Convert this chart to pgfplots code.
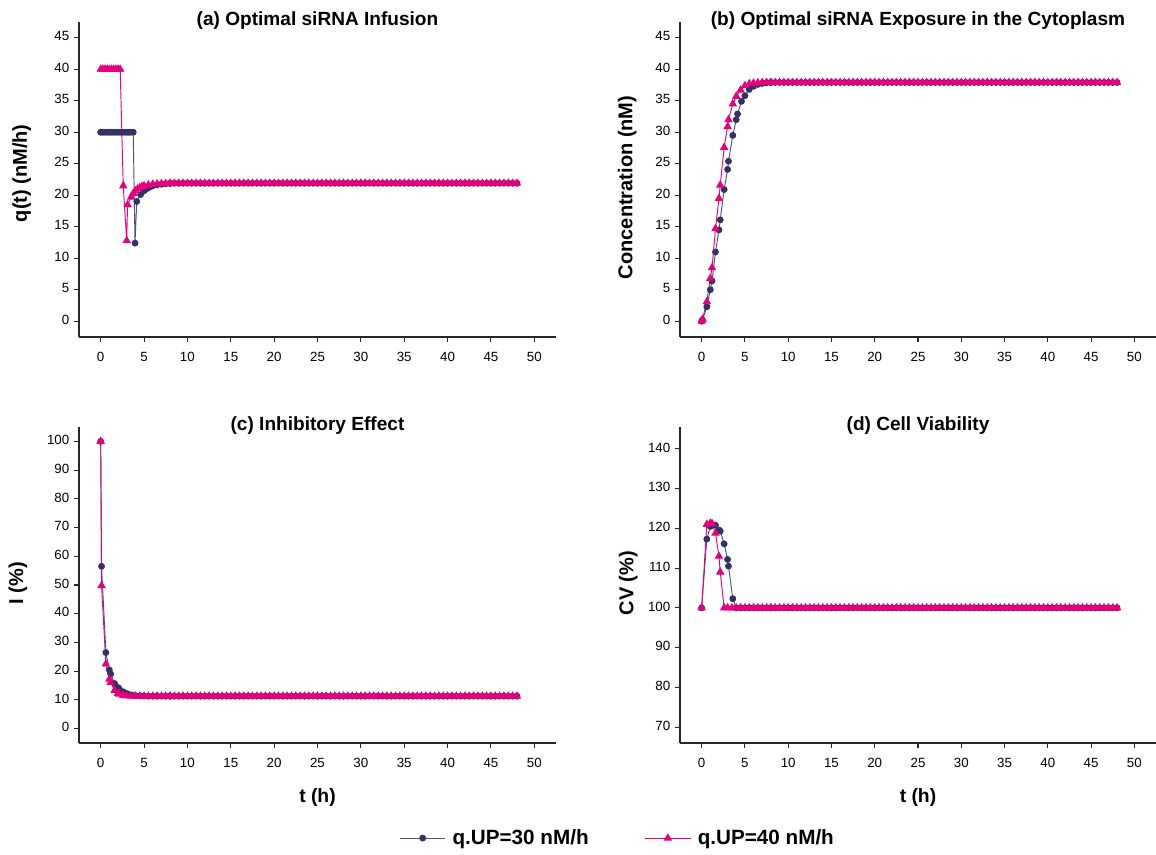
\documentclass[border=0pt]{standalone}
\usepackage{pgfplots}
\usepackage{pgfplotstable}
\pgfplotsset{compat=1.18}
\usepackage{fontspec}
\setmainfont{Liberation Sans}
\definecolor{navy}{RGB}{50,50,100}
\definecolor{navyline}{RGB}{80,80,120}
\definecolor{pinkc}{RGB}{230,0,126}
\definecolor{axisc}{RGB}{40,40,40}

% early parts of each series
\pgfplotstableread{
t v
0 30
0.25 30
0.5 30
0.75 30
1 30
1.25 30
1.5 30
1.75 30
2 30
2.25 30
2.5 30
2.75 30
3 30
3.25 30
3.5 30
3.75 30
3.96 12.4
4.16 19.0
4.6 20.1
5.0 20.7
5.25 21.0
5.5 21.2
5.75 21.35
6.0 21.5
6.5 21.65
7.0 21.75
7.5 21.82
8.0 21.86
}\aA
\pgfplotstableread{
t v
0 40
0.25 40
0.5 40
0.75 40
1 40
1.25 40
1.5 40
1.75 40
2 40
2.25 40
2.6 21.5
3.0 12.8
3.1 18.5
3.5 19.7
3.75 20.3
4.0 20.7
4.25 21.0
4.5 21.2
4.75 21.4
5.0 21.5
5.5 21.65
6.0 21.75
6.5 21.8
7.0 21.85
7.5 21.87
8.0 21.88
}\aB
\pgfplotstableread{
t v
0 0
0.1 0.2
0.6 2.3
1.0 5.0
1.2 6.4
1.6 11.0
2.0 14.5
2.15 16.1
2.6 20.9
3.0 24.1
3.1 25.4
3.6 29.5
4.0 32.0
4.15 32.9
4.6 34.9
5.0 35.8
5.5 36.8
6.0 37.3
6.5 37.6
7.0 37.75
7.5 37.85
8.0 37.9
}\bA
\pgfplotstableread{
t v
0 0
0.1 0.3
0.6 3.1
1.0 6.8
1.2 8.5
1.6 14.7
2.0 19.5
2.15 21.6
2.6 27.6
3.0 30.9
3.1 32.0
3.6 34.5
4.0 35.7
4.5 36.7
5.0 37.4
5.5 37.7
6.0 37.8
6.5 37.85
7.0 37.9
7.5 37.9
8.0 37.9
}\bB
\pgfplotstableread{
t v
0 100
0.1 56.5
0.6 26.5
1.0 20.4
1.15 19.0
1.6 15.7
2.0 14.3
2.15 13.8
2.6 12.8
3.0 12.2
3.15 12.0
3.6 11.7
4.0 11.5
4.6 11.4
5.0 11.35
5.5 11.3
6.0 11.3
6.5 11.3
7.0 11.3
7.5 11.3
8.0 11.3
}\cA
\pgfplotstableread{
t v
0 100
0.1 49.8
0.6 22.5
1.0 17.2
1.15 16.1
1.6 13.3
2.0 12.3
2.15 12.0
2.6 11.6
3.0 11.4
3.5 11.35
4.0 11.3
4.5 11.3
5.0 11.3
5.5 11.3
6.0 11.3
6.5 11.3
7.0 11.3
7.5 11.3
8.0 11.3
}\cB
\pgfplotstableread{
t v
0 100
0.6 117.3
1.0 120.5
1.2 120.9
1.6 120.8
2.0 119.6
2.15 119.3
2.6 116.1
3.0 112.2
3.1 110.5
3.6 102.3
4.0 100
4.5 100
5.0 100
5.5 100
6.0 100
6.5 100
7.0 100
7.5 100
8.0 100
}\dA
\pgfplotstableread{
t v
0 100
0.6 121.0
1.0 121.3
1.2 121.2
1.6 118.8
2.0 113.0
2.15 109.0
2.6 100
3.0 100
3.5 100
4.0 100
4.5 100
5.0 100
5.5 100
6.0 100
6.5 100
7.0 100
7.5 100
8.0 100
}\dB
% steady-state part, shared by both series
\pgfplotstableread{
t a b c d
8 21.9 37.9 11.3 100
8.5 21.9 37.9 11.3 100
9 21.9 37.9 11.3 100
9.5 21.9 37.9 11.3 100
10 21.9 37.9 11.3 100
10.5 21.9 37.9 11.3 100
11 21.9 37.9 11.3 100
11.5 21.9 37.9 11.3 100
12 21.9 37.9 11.3 100
12.5 21.9 37.9 11.3 100
13 21.9 37.9 11.3 100
13.5 21.9 37.9 11.3 100
14 21.9 37.9 11.3 100
14.5 21.9 37.9 11.3 100
15 21.9 37.9 11.3 100
15.5 21.9 37.9 11.3 100
16 21.9 37.9 11.3 100
16.5 21.9 37.9 11.3 100
17 21.9 37.9 11.3 100
17.5 21.9 37.9 11.3 100
18 21.9 37.9 11.3 100
18.5 21.9 37.9 11.3 100
19 21.9 37.9 11.3 100
19.5 21.9 37.9 11.3 100
20 21.9 37.9 11.3 100
20.5 21.9 37.9 11.3 100
21 21.9 37.9 11.3 100
21.5 21.9 37.9 11.3 100
22 21.9 37.9 11.3 100
22.5 21.9 37.9 11.3 100
23 21.9 37.9 11.3 100
23.5 21.9 37.9 11.3 100
24 21.9 37.9 11.3 100
24.5 21.9 37.9 11.3 100
25 21.9 37.9 11.3 100
25.5 21.9 37.9 11.3 100
26 21.9 37.9 11.3 100
26.5 21.9 37.9 11.3 100
27 21.9 37.9 11.3 100
27.5 21.9 37.9 11.3 100
28 21.9 37.9 11.3 100
28.5 21.9 37.9 11.3 100
29 21.9 37.9 11.3 100
29.5 21.9 37.9 11.3 100
30 21.9 37.9 11.3 100
30.5 21.9 37.9 11.3 100
31 21.9 37.9 11.3 100
31.5 21.9 37.9 11.3 100
32 21.9 37.9 11.3 100
32.5 21.9 37.9 11.3 100
33 21.9 37.9 11.3 100
33.5 21.9 37.9 11.3 100
34 21.9 37.9 11.3 100
34.5 21.9 37.9 11.3 100
35 21.9 37.9 11.3 100
35.5 21.9 37.9 11.3 100
36 21.9 37.9 11.3 100
36.5 21.9 37.9 11.3 100
37 21.9 37.9 11.3 100
37.5 21.9 37.9 11.3 100
38 21.9 37.9 11.3 100
38.5 21.9 37.9 11.3 100
39 21.9 37.9 11.3 100
39.5 21.9 37.9 11.3 100
40 21.9 37.9 11.3 100
40.5 21.9 37.9 11.3 100
41 21.9 37.9 11.3 100
41.5 21.9 37.9 11.3 100
42 21.9 37.9 11.3 100
42.5 21.9 37.9 11.3 100
43 21.9 37.9 11.3 100
43.5 21.9 37.9 11.3 100
44 21.9 37.9 11.3 100
44.5 21.9 37.9 11.3 100
45 21.9 37.9 11.3 100
45.5 21.9 37.9 11.3 100
46 21.9 37.9 11.3 100
46.5 21.9 37.9 11.3 100
47 21.9 37.9 11.3 100
47.5 21.9 37.9 11.3 100
48 21.9 37.9 11.3 100
}\tail

\pgfplotsset{
  sA/.style={color=navyline, line width=0.7pt, mark=*, mark size=2.2pt,
    mark options={solid, fill=navy, draw=navy}},
  sB/.style={color=pinkc, line width=0.7pt, mark=triangle*, mark size=3pt,
    mark options={solid, fill=pinkc, draw=pinkc}},
  base/.style={
    scale only axis,
    axis x line*=bottom, axis y line*=left,
    tick align=outside,
    major tick length=3.75pt,
    xmin=-2.5, xmax=52.5,
    xtick={0,5,...,50},
    typeset ticklabels with strut,
    tick label style={font=\fontsize{10}{12}\selectfont, color=black},
    xticklabel style={yshift=-2.5pt},
    /pgf/number format/assume math mode=true,
    axis line style={axisc, line width=0.8pt},
    tick style={axisc, line width=0.8pt},
    title style={font=\fontsize{14.3}{16}\selectfont\bfseries, inner sep=0pt, anchor=south, yshift=-11.5pt},
    xlabel style={font=\fontsize{14.5}{17}\selectfont\bfseries},
    ylabel style={font=\fontsize{15}{17}\selectfont\bfseries},
  },
}

\begin{document}
\begin{tikzpicture}
\useasboundingbox (0,0) rectangle (867pt,640.5pt);

% (a)
\begin{axis}[base, at={(59.25pt,387.75pt)}, anchor=south west,
  width=357.75pt, height=236.25pt,
  ymin=-2.5, ymax=47.5, ytick={0,5,...,45},
  title={(a) Optimal siRNA Infusion},
  ylabel={q(t) (nM/h)},
  ylabel style={at={(axis description cs:-0.12,0.52)}, anchor=center}]
\addplot[sA] table[x=t,y=v] {\aA};
\addplot[sA, forget plot] table[x=t,y=a] {\tail};
\addplot[sB] table[x=t,y=v] {\aB};
\addplot[sB, forget plot] table[x=t,y=a] {\tail};
\end{axis}

% (b)
\begin{axis}[base, at={(510pt,387.75pt)}, anchor=south west,
  width=357pt, height=236.25pt,
  ymin=-2.5, ymax=47.5, ytick={0,5,...,45},
  title={(b) Optimal siRNA Exposure in the Cytoplasm},
  ylabel={Concentration (nM)},
  ylabel style={at={(axis description cs:-0.111,0.475)}, anchor=center}]
\addplot[sA] table[x=t,y=v] {\bA};
\addplot[sA, forget plot] table[x=t,y=b] {\tail};
\addplot[sB] table[x=t,y=v] {\bB};
\addplot[sB, forget plot] table[x=t,y=b] {\tail};
\end{axis}

% (c)
\begin{axis}[base, at={(59.25pt,83.25pt)}, anchor=south west,
  width=357.75pt, height=237pt,
  ymin=-5, ymax=105, ytick={0,10,...,100},
  title={(c) Inhibitory Effect},
  xlabel={t (h)},
  xlabel style={at={(axis description cs:0.5,-0.171)}, anchor=center},
  ylabel={I (\%)},
  ylabel style={at={(axis description cs:-0.128,0.506)}, anchor=center},
  legend columns=2,
  legend style={at={(axis description cs:1.13,-0.301)}, anchor=center,
    draw=none, fill=none, font=\fontsize{15.5}{18}\selectfont\bfseries,
    /tikz/every odd column/.append style={column sep=3pt},
    /tikz/every even column/.append style={column sep=40pt}},
  legend image code/.code={\draw[mark repeat=2,mark phase=2] plot coordinates {(0cm,0cm) (0.6cm,0cm) (1.2cm,0cm)};}]
\addplot[sA] table[x=t,y=v] {\cA};
\addlegendentry{q.UP=30 nM/h}
\addplot[sA, forget plot] table[x=t,y=c] {\tail};
\addplot[sB] table[x=t,y=v] {\cB};
\addlegendentry{q.UP=40 nM/h}
\addplot[sB, forget plot] table[x=t,y=c] {\tail};
\end{axis}

% (d)
\begin{axis}[base, at={(510pt,83.25pt)}, anchor=south west,
  width=357pt, height=237pt,
  ymin=66, ymax=145.5, ytick={70,80,...,140},
  title={(d) Cell Viability},
  xlabel={t (h)},
  xlabel style={at={(axis description cs:0.5,-0.171)}, anchor=center},
  ylabel={CV (\%)},
  ylabel style={at={(axis description cs:-0.109,0.506)}, anchor=center}]
\addplot[sA] table[x=t,y=v] {\dA};
\addplot[sA, forget plot] table[x=t,y=d] {\tail};
\addplot[sB] table[x=t,y=v] {\dB};
\addplot[sB, forget plot] table[x=t,y=d] {\tail};
\end{axis}
\end{tikzpicture}
\end{document}
